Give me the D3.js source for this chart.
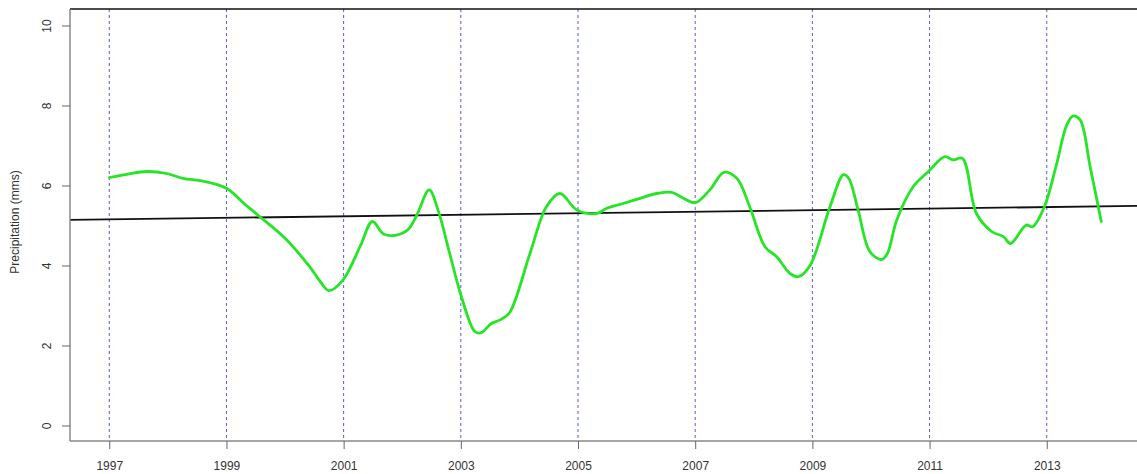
<!DOCTYPE html>
<html>
<head>
<meta charset="utf-8">
<script src="https://cdn.jsdelivr.net/npm/d3@7"></script>
<style>
  html, body { margin: 0; padding: 0; background: #fff; }
  svg { display: block; font-family: "Liberation Sans", Arial, sans-serif; }
</style>
</head>
<body>
<svg id="chart" width="1137" height="474"></svg>
<script>
// ---- data ----
const years = [1997.0, 1997.3, 1997.64, 1997.98, 1998.26, 1998.6, 1999.0, 1999.3, 1999.57, 2000.0,
  2000.42, 2000.6, 2000.75, 2000.99, 2001.28, 2001.49, 2001.68, 2001.9, 2002.1, 2002.25,
  2002.46, 2002.61, 2002.81, 2003.01, 2003.24, 2003.35, 2003.52, 2003.67, 2003.83, 2004.18,
  2004.46, 2004.69, 2004.98, 2005.32, 2005.49, 2005.77, 2006.06, 2006.34, 2006.6, 2006.8,
  2007.0, 2007.25, 2007.49, 2007.71, 2007.93, 2008.19, 2008.39, 2008.62, 2008.76, 2008.96,
  2009.3, 2009.53, 2009.62, 2009.78, 2009.98, 2010.18, 2010.28, 2010.44, 2010.72, 2010.98,
  2011.26, 2011.4, 2011.56, 2011.8, 2012.06, 2012.26, 2012.38, 2012.65, 2012.76, 2012.96,
  2013.17, 2013.34, 2013.45, 2013.57, 2013.74, 2013.93];
const precipitation = [6.2, 6.28, 6.35, 6.3, 6.18, 6.11, 5.93, 5.55, 5.22, 4.68,
  3.97, 3.6, 3.37, 3.64, 4.47, 5.1, 4.79, 4.76, 4.9, 5.26,
  5.89, 5.39, 4.3, 3.22, 2.35, 2.32, 2.55, 2.64, 2.82, 4.3,
  5.47, 5.8, 5.39, 5.3, 5.43, 5.55, 5.68, 5.8, 5.83, 5.68,
  5.57, 5.89, 6.33, 6.18, 5.47, 4.47, 4.22, 3.8, 3.72, 4.0,
  5.47, 6.27, 6.18, 5.39, 4.35, 4.15, 4.3, 5.14, 5.97, 6.35,
  6.72, 6.64, 6.68, 5.3, 4.85, 4.72, 4.55, 5.01, 4.97, 5.47,
  6.55, 7.51, 7.74, 7.64, 6.47, 5.1];
const trendYears = [1996.33, 2014.54];
const trendValues = [5.14, 5.49];
const xTicks = [1997, 1999, 2001, 2003, 2005, 2007, 2009, 2011, 2013];
const yTicks = [0, 2, 4, 6, 8, 10];
const yTitle = "Precipitation (mms)";

// ---- layout ----
const pL = 70, pR = 1137, pT = 9, pB = 441;
const svg = d3.select("#chart");
const x = d3.scaleLinear().domain([1996.33, 2014.54]).range([pL, pR]);
const y = d3.scaleLinear().domain([-0.3875, 10.4125]).range([pB, pT]);

const defs = svg.append("defs");
defs.append("clipPath").attr("id", "clip")
  .append("rect").attr("x", pL).attr("y", pT).attr("width", pR - pL).attr("height", pB - pT);

// vertical dashed guides
svg.append("g").selectAll("line").data(xTicks).join("line")
  .attr("x1", d => x(d)).attr("x2", d => x(d))
  .attr("y1", pT).attr("y2", pB)
  .attr("stroke", "#5858e0").attr("stroke-width", 1)
  .attr("stroke-dasharray", "3,3");

// trend line
svg.append("path")
  .datum(trendYears.map((t, i) => [t, trendValues[i]]))
  .attr("clip-path", "url(#clip)")
  .attr("fill", "none").attr("stroke", "#111").attr("stroke-width", 1.8)
  .attr("d", d3.line().x(d => x(d[0])).y(d => y(d[1])));

// precipitation series
svg.append("path")
  .datum(years.map((t, i) => [t, precipitation[i]]))
  .attr("fill", "none").attr("stroke", "#26e426").attr("stroke-width", 2.8)
  .attr("stroke-linejoin", "round").attr("stroke-linecap", "round")
  .attr("d", d3.line().curve(d3.curveCatmullRom.alpha(0.5)).x(d => x(d[0])).y(d => y(d[1])));

// frame top
svg.append("line").attr("x1", pL).attr("x2", pR).attr("y1", pT).attr("y2", pT)
  .attr("stroke", "#111").attr("stroke-width", 1.5);

// y axis
const yAxis = svg.append("g").attr("transform", `translate(${pL},0)`)
  .call(d3.axisLeft(y).tickValues(yTicks).tickSize(8).tickSizeOuter(0).tickFormat(d3.format("d")));
yAxis.select(".domain").attr("d", `M0,${pT}V${pB}`).attr("stroke", "#888").attr("stroke-width", 1.5);
yAxis.selectAll(".tick line").attr("stroke", "#666");
yAxis.selectAll(".tick text")
  .attr("font-size", 12).attr("fill", "#333")
  .attr("x", null)
  .attr("text-anchor", "middle")
  .attr("transform", "translate(-23,0) rotate(-90)")
  .attr("dy", "0.35em");

// x axis
const xAxis = svg.append("g").attr("transform", `translate(0,${pB})`)
  .call(d3.axisBottom(x).tickValues(xTicks).tickSize(8).tickSizeOuter(0).tickFormat(d3.format("d")));
xAxis.select(".domain").attr("d", `M${pL},0H${pR}`).attr("stroke", "#888").attr("stroke-width", 1.5);
xAxis.selectAll(".tick line").attr("stroke", "#666");
xAxis.selectAll(".tick text").attr("font-size", 12).attr("fill", "#333").attr("y", 20);

// y title
svg.append("text")
  .attr("transform", "translate(19,222) rotate(-90)")
  .attr("text-anchor", "middle")
  .attr("font-size", 12).attr("fill", "#333")
  .text(yTitle);
</script>
</body>
</html>
